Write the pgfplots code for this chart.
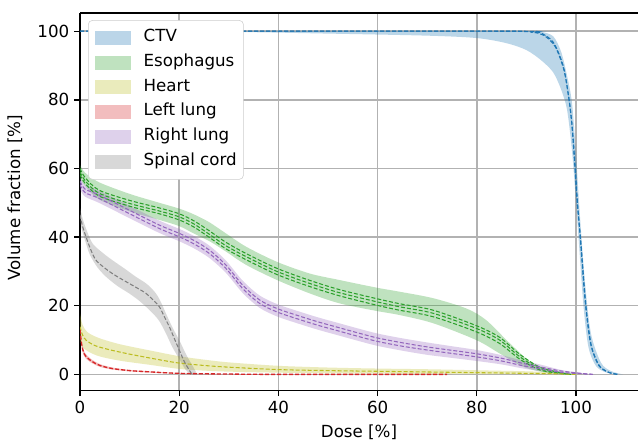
\documentclass[border=0pt]{standalone}
\usepackage{fontspec}
\setmainfont{DejaVu Sans}
\usepackage{pgfplots}
\pgfplotsset{compat=1.18}
\usepgfplotslibrary{fillbetween}
\usetikzlibrary{calc}

\definecolor{tabblue}{HTML}{1F77B4}
\definecolor{tabgreen}{HTML}{2CA02C}
\definecolor{tabolive}{HTML}{BCBD22}
\definecolor{tabred}{HTML}{D62728}
\definecolor{tabpurple}{HTML}{9467BD}
\definecolor{tabgray}{HTML}{7F7F7F}

\pgfplotsset{
  band/.style={draw=none, fill opacity=0.3, forget plot},
  edge/.style={draw=none, smooth, tension=0.5, forget plot},
  dvh/.style={line width=0.8pt, dash pattern=on 3pt off 1.5pt, smooth, tension=0.5, forget plot},
}

\begin{document}
\begin{tikzpicture}
\begin{axis}[
  scale only axis,
  width=418.3pt, height=282.75pt,
  xmin=0, xmax=112.5, ymin=-4.6, ymax=105.3,
  axis x line*=box, axis y line*=left,
  xtick={0,20,...,100}, ytick={0,20,...,100},
  xtick pos=left, ytick pos=left,
  tick align=outside, major tick length=4.5pt,
  tick style={black, line width=1pt},
  axis line style={line width=1pt},
  grid=major,
  major grid style={black!30, line width=1.1pt},
  /pgf/number format/assume math mode=true,
  tick label style={font=\fontsize{12.5}{14}\selectfont},
  label style={font=\fontsize{12.5}{14}\selectfont},
  xlabel={Dose [\%]},
  ylabel={Volume fraction [\%]},
  xlabel style={at={(rel axis cs:0.5,-0.1114)}, anchor=center},
  ylabel style={at={(rel axis cs:-0.1166,0.51)}, anchor=center},
  legend image code/.code={\path[#1, sharp corners] (0pt,-5.25pt) rectangle (27pt,5.25pt);},
  legend style={at={(0.0144,0.981)}, anchor=north west,
    draw=black!20, rounded corners=3pt, fill=white,
    font=\fontsize{12.5}{14}\selectfont,
    inner xsep=5pt, inner ysep=7.8pt,
    row sep=8.1pt, column sep=9.5pt,
    nodes={inner sep=0pt, text height=0.75em, text depth=0.22em},
    cells={anchor=west}},
]
\addlegendimage{fill=tabblue, fill opacity=0.3, draw=none}
\addlegendentry{CTV}
\addlegendimage{fill=tabgreen, fill opacity=0.3, draw=none}
\addlegendentry{Esophagus}
\addlegendimage{fill=tabolive, fill opacity=0.3, draw=none}
\addlegendentry{Heart}
\addlegendimage{fill=tabred, fill opacity=0.3, draw=none}
\addlegendentry{Left lung}
\addlegendimage{fill=tabpurple, fill opacity=0.3, draw=none}
\addlegendentry{Right lung}
\addlegendimage{fill=tabgray, fill opacity=0.3, draw=none}
\addlegendentry{Spinal cord}

% CTV
\addplot[edge, name path=ctvU] coordinates {(0,100) (90,100) (93,99.8) (95.4,98.5) (97,94) (98.2,87) (99.2,79) (100,64) (100.8,46) (101.8,27) (103,12) (105,3.5) (107,1) (109.5,0)};
\addplot[edge, name path=ctvL] coordinates {(0,100) (30,99.8) (50,99.3) (70,98.7) (80,98) (86,96.5) (90,94.5) (93,91.5) (95.4,88) (97,83) (98.2,77) (99.2,65) (100,50) (100.6,38) (101.5,20) (102.5,8) (104,2.5) (106,0.6) (109,0)};
\addplot[band, fill=tabblue] fill between[of=ctvU and ctvL];
\addplot[dvh, tabblue] coordinates {(0,100) (80,100) (90,99.9) (92.7,99.6) (95.4,96.8) (97.4,90) (98.4,82) (99.1,74) (99.7,62) (100.2,51) (100.8,41) (101.8,22) (102.8,10) (103.8,5) (104.8,2.2) (106.5,0.6) (108.3,0)};
\addplot[dvh, tabblue] coordinates {(0,100) (85,100) (91,99.7) (93.5,98.8) (95.8,95.5) (97.6,88.5) (98.6,80) (99.3,71) (99.9,59) (100.4,48) (101,38) (102,20) (103,9) (104,4.5) (105,2) (106.8,0.5) (108.5,0)};

% Esophagus
\addplot[edge, name path=esoU] coordinates {(0,61) (1,58.8) (3.8,56) (10,52.6) (16,50) (20,48.3) (23,46.6) (26.1,44.3) (29.4,41.1) (33.5,37.2) (39.7,32.8) (46.3,29.4) (52.3,27.5) (59.7,25.3) (64.4,24.1) (71.2,22.2) (77.9,19.2) (81.9,15.8) (86.7,9) (91.3,3.2) (96.8,0.8) (100,0)};
\addplot[edge, name path=esoL] coordinates {(0,57) (1,55) (3.8,51) (10,47.5) (16,45) (20,43.2) (23,41) (26.1,38.8) (29.4,35.8) (33.5,31.9) (39.7,27.5) (46.3,23.6) (52.3,20.7) (59.7,18.5) (64.4,17.3) (71.2,14.9) (79.9,10) (84.6,6.1) (89.4,2.2) (93.9,0.5) (97,0)};
\addplot[band, fill=tabgreen] fill between[of=esoU and esoL];
\addplot[dvh, tabgreen] coordinates {(0,60) (1,57.4) (3.8,53.7) (10,50.7) (16,48.5) (20,46.8) (23,44.7) (26.1,41.8) (29.4,38.5) (33.5,35.2) (39.7,30.9) (46.3,27.4) (52.3,24.7) (59.7,22.1) (64.4,20.6) (71.2,18.7) (79.9,14.2) (84.6,10.8) (88.7,5.8) (92.7,2.1) (96.8,0.5) (99,0)};
\addplot[dvh, tabgreen] coordinates {(0,59) (1,56.5) (3.8,52.8) (10,49.8) (16,47.6) (20,45.9) (23,43.8) (26.1,40.8) (29.4,37.5) (33.5,34.3) (39.7,30) (46.3,26.5) (52.3,23.8) (59.7,21.2) (64.4,19.7) (71.2,17.8) (79.9,13.4) (84.6,10) (88.7,5.1) (92.7,1.7) (96.8,0.4) (99,0)};
\addplot[dvh, tabgreen] coordinates {(0,58.2) (1,55.7) (3.8,52) (10,49) (16,46.8) (20,45) (23,42.9) (26.1,39.9) (29.4,36.6) (33.5,33.4) (39.7,29.1) (46.3,25.6) (52.3,22.9) (59.7,20.2) (64.4,18.7) (71.2,16.8) (79.9,12.4) (84.6,9) (88.7,4.4) (92.7,1.3) (96.8,0.3) (99,0)};

% Heart
\addplot[edge, name path=heaU] coordinates {(0,17.7) (0.5,14.5) (1.5,12.3) (3.8,10.6) (8,8.8) (14,7) (20,5.3) (25,4.3) (30,3.5) (40,2.5) (50,2) (60,1.7) (70,1.5) (80,1.2) (90,0.9) (95,0.6) (98,0.2) (102,0)};
\addplot[edge, name path=heaL] coordinates {(0,10) (0.5,8) (1.5,6.8) (3.8,5.3) (8,4) (14,2.8) (20,1.6) (25,1.1) (30,0.8) (40,0.5) (50,0.3) (60,0.2) (80,0.1) (95,0) (102,0)};
\addplot[band, fill=tabolive] fill between[of=heaU and heaL];
\addplot[dvh, tabolive] coordinates {(0,13.9) (0.5,11.5) (1.2,10) (3,8.4) (5.9,7.2) (10,5.9) (14,4.8) (17,4) (20,3.3) (25,2.6) (30,2.1) (40,1.4) (50,1.1) (60,0.9) (70,0.7) (80,0.5) (90,0.3) (95,0.2) (100,0)};

% Left lung
\addplot[edge, name path=llU] coordinates {(0,14) (0.3,10) (0.8,6.8) (1.5,5.4) (2.5,4.2) (4,3) (6.5,2) (10,1.3) (13.3,0.95) (20,0.4) (30,0.15) (40,0.03) (75,0)};
\addplot[edge, name path=llL] coordinates {(0,12) (0.3,8) (0.8,5.4) (1.5,4.2) (2.5,3.2) (4,2.2) (6.5,1.4) (10,0.9) (13.3,0.6) (20,0.15) (30,0) (75,0)};
\addplot[band, fill=tabred] fill between[of=llU and llL];
\addplot[dvh, tabred, line width=1pt] coordinates {(0,13) (0.3,9) (0.8,6.1) (1.5,4.8) (2.5,3.7) (4,2.6) (6.5,1.7) (10,1.1) (13.3,0.8) (20,0.3) (30,0.1) (40,0) (74,0)};

% Right lung
\addplot[edge, name path=rlU] coordinates {(0,57.5) (1,55.2) (3.8,53.5) (10,49.1) (16,44.8) (20,42.4) (23,40.3) (26.1,37.5) (29.4,33.2) (32.8,27.3) (36.2,23) (39.7,20.5) (44,18.4) (48,16.6) (52,15) (56,13.4) (60,11.9) (65,10.5) (70,9.3) (75,8.2) (80,7.1) (85,5.6) (89,4.1) (93,2.8) (97,1.3) (101,0.4) (104,0)};
\addplot[edge, name path=rlL] coordinates {(0,54) (1,51.8) (3.8,50) (10,45.5) (16,41.2) (20,38.8) (23,36.7) (26.1,33.9) (29.4,29.6) (32.8,23.7) (36.2,19.4) (39.7,16.9) (44,14.8) (48,13) (52,11.4) (56,9.8) (60,8.3) (65,6.9) (70,5.7) (75,4.8) (80,3.9) (85,2.9) (89,1.8) (93,0.9) (97,0.3) (101,0.1) (104,0)};
\addplot[band, fill=tabpurple] fill between[of=rlU and rlL];
\addplot[dvh, tabpurple] coordinates {(0,56.3) (1,54) (3.8,52.3) (10,47.8) (16,43.5) (20,41.1) (23,39) (26.1,36.2) (29.4,31.9) (32.8,26) (36.2,21.7) (39.7,19.2) (44,17.1) (48,15.3) (52,13.7) (56,12.1) (60,10.6) (65,9.2) (70,8) (75,7) (80,6) (85,4.7) (89,3.3) (93,2.1) (97,1) (101,0.3) (103.4,0)};
\addplot[dvh, tabpurple] coordinates {(0,55.3) (1,53) (3.8,51.3) (10,46.8) (16,42.5) (20,40.1) (23,38) (26.1,35.2) (29.4,30.9) (32.8,25) (36.2,20.7) (39.7,18.2) (44,16.1) (48,14.3) (52,12.7) (56,11.1) (60,9.6) (65,8.2) (70,7.1) (75,6.1) (80,5.1) (85,3.9) (89,2.6) (93,1.6) (97,0.6) (101,0.2) (103.4,0)};

% Spinal cord
\addplot[edge, name path=scU] coordinates {(0,48.5) (0.5,45.5) (1.2,42.5) (2.5,38.2) (4.5,35.5) (6.5,33.3) (9,30.8) (11.2,28.5) (13.5,26.3) (15.3,23.6) (16.5,20.5) (17.3,17.8) (18.7,13.5) (20,10) (21.5,5.5) (22.9,2) (23.6,0)};
\addplot[edge, name path=scL] coordinates {(0,44.5) (0.5,41.5) (1.2,38.2) (2,34.8) (3.5,31.2) (5.2,28.5) (7.5,25.8) (9.9,23.6) (11.8,21.6) (13.3,19.7) (14.8,17.6) (16,15.5) (17.3,12) (18.6,8) (20,4.5) (21.3,1.3) (22.3,0)};
\addplot[band, fill=tabgray] fill between[of=scU and scL];
\addplot[dvh, tabgray] coordinates {(0,46.5) (0.5,43.2) (1.2,40.1) (2.2,36.2) (3.2,33.3) (4.8,31.2) (6.5,29.4) (8.2,27.9) (9.9,26.5) (11.6,25.1) (13.3,23.6) (14.8,21.6) (16,19.7) (17,16.8) (18,13.9) (19,10.5) (20,7.1) (21,3.8) (22,1.3) (22.6,0)};
\end{axis}
\pgfresetboundingbox
\path[use as bounding box] ($(current axis.south west)+(-60pt,-38.25pt)$) rectangle ($(current axis.north east)+(0pt,9.75pt)$);
\end{tikzpicture}
\end{document}
